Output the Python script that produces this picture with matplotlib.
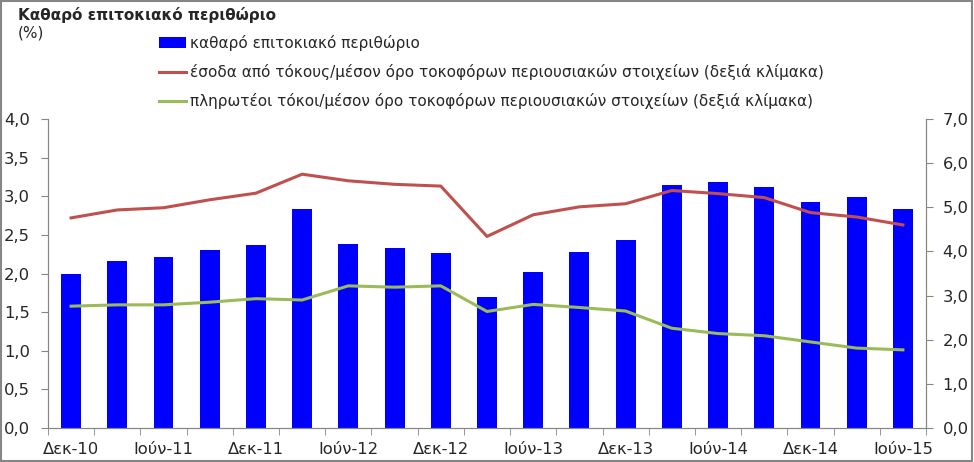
import matplotlib
matplotlib.use("Agg")
import matplotlib.pyplot as plt
import numpy as np
from matplotlib.ticker import FuncFormatter, FixedLocator
from matplotlib.patches import Rectangle

# quarterly data, Dec-10 .. Jun-15
quarters = ["Δεκ-10", "Μαρ-11", "Ιούν-11", "Σεπ-11", "Δεκ-11", "Μαρ-12", "Ιούν-12",
            "Σεπ-12", "Δεκ-12", "Μαρ-13", "Ιούν-13", "Σεπ-13", "Δεκ-13", "Μαρ-14",
            "Ιούν-14", "Σεπ-14", "Δεκ-14", "Μαρ-15", "Ιούν-15"]
nim = [2.00, 2.16, 2.21, 2.31, 2.37, 2.83, 2.38, 2.33, 2.26, 1.70,
       2.02, 2.28, 2.44, 3.14, 3.18, 3.12, 2.93, 2.99, 2.84]
income = [4.76, 4.94, 4.99, 5.17, 5.32, 5.75, 5.60, 5.52, 5.48, 4.34,
          4.83, 5.01, 5.08, 5.38, 5.31, 5.22, 4.88, 4.78, 4.60]
paid = [2.76, 2.79, 2.79, 2.85, 2.93, 2.90, 3.22, 3.19, 3.22, 2.64,
        2.80, 2.73, 2.65, 2.26, 2.14, 2.09, 1.95, 1.81, 1.77]

lbl_nim = "καθαρό επιτοκιακό περιθώριο"
lbl_inc = "έσοδα από τόκους/μέσον όρο τοκοφόρων περιουσιακών στοιχείων (δεξιά κλίμακα)"
lbl_paid = "πληρωτέοι τόκοι/μέσον όρο τοκοφόρων περιουσιακών στοιχείων (δεξιά κλίμακα)"

plt.rcParams['font.family'] = ['DejaVu Sans']
fs = 11
tfs = 11.8
grey = "#868686"
txt = "#262626"

fig = plt.figure(figsize=(9.74, 4.62), dpi=100)
ax = fig.add_axes([48 / 974, 1 - 428 / 462, 878 / 974, 309 / 462])
ax2 = ax.twinx()

x = np.arange(len(quarters))
bars = ax.bar(x, nim, width=0.43, color="#0000FF", label=lbl_nim, zorder=2)
l1, = ax2.plot(x, income, color="#C0504D", lw=2.2, label=lbl_inc)
l2, = ax2.plot(x, paid, color="#9BBB59", lw=2.2, label=lbl_paid)

ax.set_xlim(-0.5, len(quarters) - 0.5)
ax.set_ylim(0, 4)
ax2.set_ylim(0, 7)
ax.set_yticks(np.arange(0, 4.01, 0.5))
ax2.set_yticks(np.arange(0, 7.01, 1))
fmt = FuncFormatter(lambda v, p: f"{v:.1f}".replace(".", ","))
ax.yaxis.set_major_formatter(fmt)
ax2.yaxis.set_major_formatter(fmt)

# labels every second quarter, tick marks at category boundaries
ax.set_xticks(x[::2])
ax.set_xticklabels(quarters[::2])
ax.xaxis.set_minor_locator(FixedLocator(np.arange(-0.5, len(quarters), 1)))
ax.tick_params(axis="x", which="major", length=0, pad=10)
ax.tick_params(axis="x", which="minor", length=5, color=grey)

for a in (ax, ax2):
    a.spines["top"].set_visible(False)
    for s in ("left", "right", "bottom"):
        a.spines[s].set_color(grey)
    a.tick_params(axis="y", length=5, color=grey, labelsize=tfs, labelcolor=txt)
    a.tick_params(axis="x", labelsize=tfs, labelcolor=txt)
ax.tick_params(axis="y", pad=8)
ax2.tick_params(axis="y", pad=7)

fig.legend([bars, l1, l2], [lbl_nim, lbl_inc, lbl_paid], loc="upper left",
           bbox_to_anchor=(159 / 974, 1 - 35 / 462), frameon=False, fontsize=fs,
           handlelength=1.75, handletextpad=0.3, labelspacing=0.85, borderaxespad=0,
           borderpad=0, labelcolor=txt)

fig.text(18 / 974, 1 - 15 / 462, "Καθαρό επιτοκιακό περιθώριο", fontsize=fs,
         fontweight="bold", color=txt, va="center")
fig.text(18 / 974, 1 - 33 / 462, "(%)", fontsize=fs, color=txt, va="center")

fig.patches.append(Rectangle((0.001, 0.002), 0.997, 0.996, transform=fig.transFigure,
                             fill=False, edgecolor=grey, lw=1.5))

fig.savefig("out.png", dpi=100)
